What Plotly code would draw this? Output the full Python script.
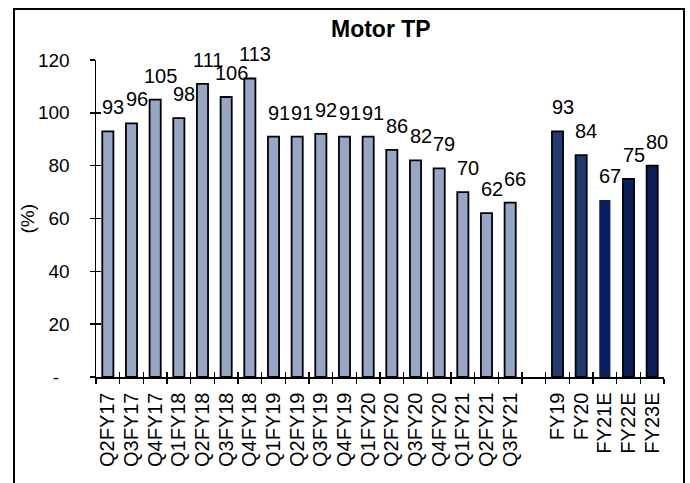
import plotly.graph_objects as go

categories = ["Q2FY17", "Q3FY17", "Q4FY17", "Q1FY18", "Q2FY18", "Q3FY18", "Q4FY18",
              "Q1FY19", "Q2FY19", "Q3FY19", "Q4FY19", "Q1FY20", "Q2FY20", "Q3FY20",
              "Q4FY20", "Q1FY21", "Q2FY21", "Q3FY21", " ",
              "FY19", "FY20", "FY21E", "FY22E", "FY23E"]
values = [93, 96, 105, 98, 111, 106, 113,
          91, 91, 92, 91, 91, 86, 82,
          79, 70, 62, 66, None,
          93, 84, 67, 75, 80]
bar_colors = ["#96A6C4"] * 18 + ["#FFFFFF"] + ["#213A70", "#213A70", "#0A1F62", "#0B1F5C", "#0B1F5C"]
line_widths = [1.8] * 18 + [0] + [1.8, 1.8, 0, 1.8, 1.8]
y_tickvals = [0, 20, 40, 60, 80, 100, 120]
y_ticktext = ["-\u00a0\u00a0", "20", "40", "60", "80", "100", "120"]
title_text = "Motor TP"
y_title = "(%)"

FONT = "Liberation Sans, Arial, sans-serif"

fig = go.Figure()
fig.add_trace(go.Bar(
    x=categories, y=values, width=0.47,
    marker=dict(color=bar_colors, line=dict(color="#000000", width=line_widths)),
    showlegend=False, hoverinfo="skip",
))
# invisible trace for overlay axes (cross ticks)
fig.add_trace(go.Scatter(x=categories, y=[None] * len(categories), xaxis="x2", yaxis="y2",
                         mode="markers", showlegend=False, hoverinfo="skip"))

for c, v in zip(categories, values):
    if v is None:
        continue
    fig.add_annotation(x=c, y=v, text=str(v), showarrow=False, xref="x", yref="y",
                       yanchor="middle", xanchor="center", yshift=24, xshift=5,
                       font=dict(family=FONT, size=20, color="#000000"))

L, R, T, B = 96, 664, 60, 377
W, H = 690, 483
pw, ph = R - L, B - T

def px_x(p):
    return (p - L) / pw

def px_y(p):
    return (B - p) / ph

fig.add_annotation(x=px_x(27), y=0.5, xref="paper", yref="paper", text=y_title,
                   textangle=-90, showarrow=False, xanchor="center", yanchor="middle",
                   font=dict(family=FONT, size=19, color="#000000"))

fig.add_annotation(x=px_x(381), y=px_y(29), xref="paper", yref="paper",
                   text="<b>" + title_text + "</b>", showarrow=False,
                   xanchor="center", yanchor="middle",
                   font=dict(family=FONT, size=23, color="#000000"))

fig.add_shape(type="rect", xref="paper", yref="paper",
              x0=px_x(14), x1=px_x(684), y0=-0.6, y1=px_y(9),
              line=dict(color="#000000", width=2), fillcolor="rgba(0,0,0,0)", layer="above")

axis_common = dict(showgrid=False, zeroline=False, showline=True, linecolor="#000000",
                   linewidth=1.5, tickcolor="#000000", tickwidth=1.5, ticklen=5)

fig.update_layout(
    width=W, height=H,
    margin=dict(l=L, r=W - R, t=T, b=H - B),
    paper_bgcolor="#FFFFFF", plot_bgcolor="#FFFFFF",
    font=dict(family=FONT, size=19, color="#000000"),
    bargap=0.5,
    xaxis=dict(type="category", categoryorder="array", categoryarray=categories,
               range=[-0.5, len(categories) - 0.5], tickson="boundaries", ticks="outside",
               tickmode="linear", tick0=0, dtick=1,
               tickangle=-90, tickfont=dict(family=FONT, size=20, color="#000000"),
               ticklabelstandoff=6, **axis_common),
    yaxis=dict(range=[0, 120], tickvals=y_tickvals, ticktext=y_ticktext, ticks="outside",
               tickfont=dict(family=FONT, size=19, color="#000000"), ticklabelstandoff=16,
               **axis_common),
    xaxis2=dict(type="category", categoryorder="array", categoryarray=categories,
                range=[-0.5, len(categories) - 0.5], tickson="boundaries", ticks="inside",
                tickmode="linear", tick0=0, dtick=1,
                overlaying="x", anchor="y2", showticklabels=False, **axis_common),
    yaxis2=dict(range=[0, 120], tickvals=y_tickvals, ticks="inside", overlaying="y",
                anchor="x2", showticklabels=False, **axis_common),
)

fig.write_html("out.html", config={"displayModeBar": False, "staticPlot": True},
               post_script="document.body.style.margin='0';")
